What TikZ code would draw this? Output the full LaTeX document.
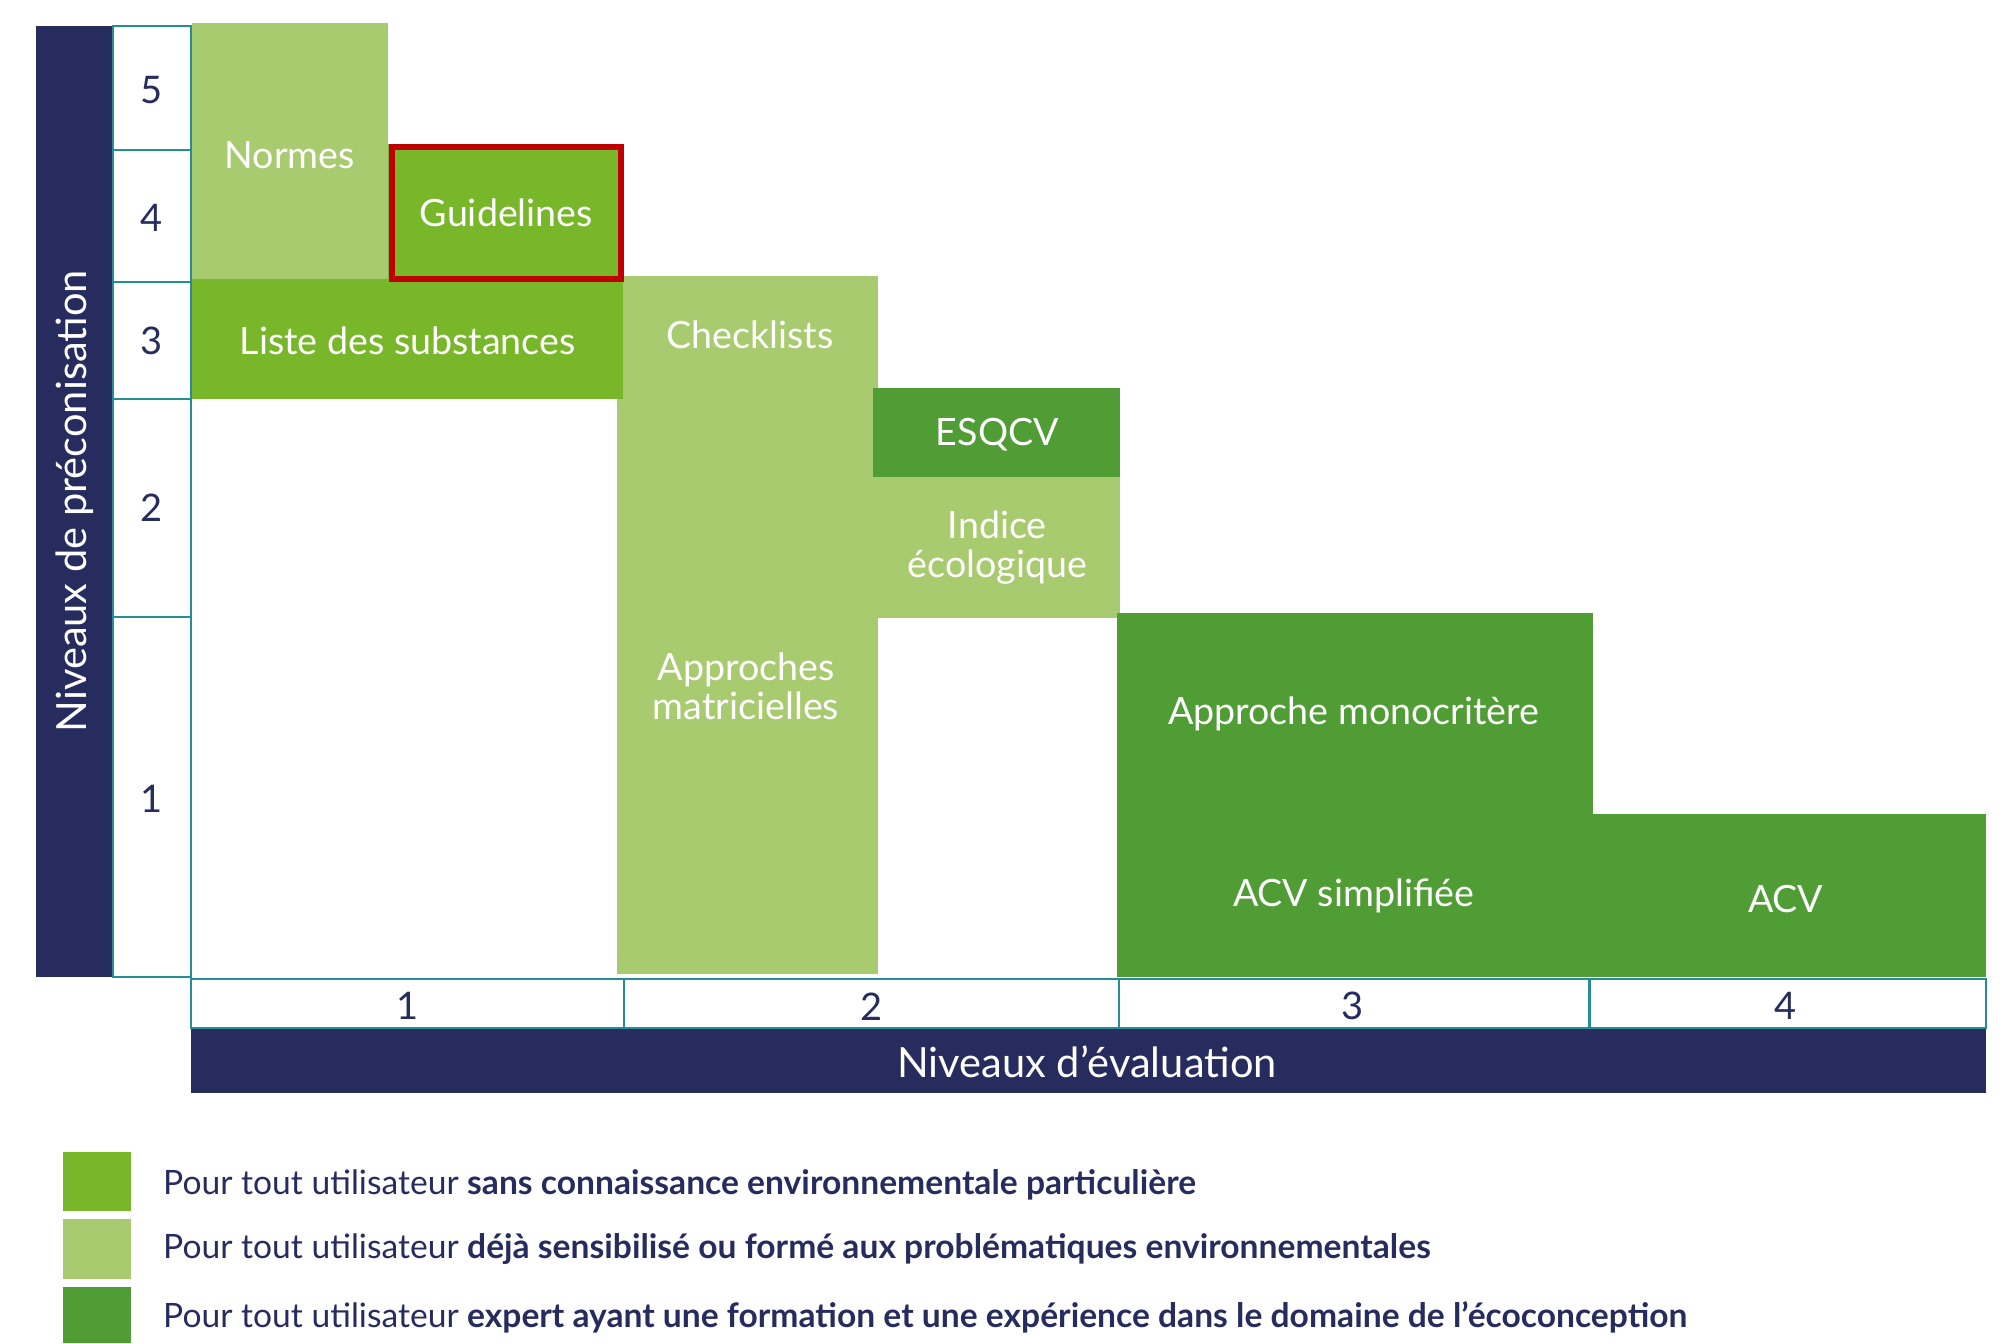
\documentclass[tikz,border=0pt]{standalone}
\usepackage{fontspec}
\setmainfont{Lato}
\definecolor{navy}{RGB}{39,44,94}
\definecolor{gbright}{RGB}{121,183,42}
\definecolor{glight}{RGB}{169,203,112}
\definecolor{gdark}{RGB}{80,157,53}
\definecolor{tealline}{RGB}{38,140,150}
\definecolor{redbox}{RGB}{192,0,0}
\begin{document}
\begin{tikzpicture}[x=0.641pt,y=-0.641pt,
  lbl/.style={text=white,font=\fontsize{18.8}{19.5}\selectfont,align=center,inner sep=0pt},
  num/.style={text=navy,font=\fontsize{19}{20}\selectfont,inner sep=0pt},
  axis/.style={text=white,font=\fontsize{20.8}{22}\selectfont,inner sep=0pt},
  legtext/.style={text=navy,font=\fontsize{16.8}{19}\selectfont,anchor=west,inner sep=0pt},
  grid/.style={draw=tealline,line width=1.1pt}]
\useasboundingbox (0,0) rectangle (1568,1048);
% vertical axis bar
\fill[navy] (28,20) rectangle (88,762);
\node[axis,rotate=90] (yaxis) at (58,391) {Niveaux de préconisation};
% number column
\draw[grid] (88,20) rectangle (149,762);
\foreach \yy in {117,220,311,481} \draw[grid] (88,\yy) -- (149,\yy);
\node[num] (r5) at (118,70) {5};
\node[num] (r4) at (118,170) {4};
\node[num] (r3) at (118,266) {3};
\node[num] (r2) at (118,396) {2};
\node[num] (r1) at (118,623) {1};
% boxes
\fill[glight] (150,18) rectangle (303,218);
\node[lbl] (normes) at (226,121) {Normes};
\fill[glight] (481,215) rectangle (685,760);
\node[lbl] (check) at (585,261) {Checklists};
\node[lbl] (matr) at (582,535) {Approches\\matricielles};
\fill[gbright] (150,218) rectangle (486,311);
\node[lbl] (liste) at (318,266) {Liste des substances};
\fill[gbright] (303,112) rectangle (487,220);
\draw[redbox,line width=3pt] (305.5,114.5) rectangle (484.5,217.5);
\node[lbl] (guide) at (395,166) {Guidelines};
\fill[gdark] (681,303) rectangle (874,372);
\node[lbl] (esqcv) at (778,339) {ESQCV};
\fill[glight] (681,372) rectangle (874,482);
\node[lbl] (indice) at (778,427) {Indice\\écologique};
\fill[gdark] (871,478) rectangle (1243,762);
\node[lbl] (mono) at (1056,557) {Approche monocritère};
\node[lbl] (acvs) at (1056,699) {ACV simplifiée};
\fill[gdark] (1243,635) rectangle (1549,762);
\node[lbl] (acv) at (1393,701) {ACV};
% horizontal axis
\draw[grid] (149,764) rectangle (1549,802);
\foreach \xx in {487,873,1240} \draw[grid] (\xx,764) -- (\xx,802);
\node[num] (c1) at (318,785) {1};
\node[num] (c2) at (680,785) {2};
\node[num] (c3) at (1055,785) {3};
\node[num] (c4) at (1393,785) {4};
\fill[navy] (149,803) rectangle (1549,853);
\node[axis] (xaxis) at (848,828) {Niveaux d’évaluation};
% legend
\fill[gbright] (49,899) rectangle (102,945);
\fill[glight] (49,951) rectangle (102,998);
\fill[gdark] (49,1004) rectangle (102,1048);
\node[legtext] (l1) at (127,924) {Pour tout utilisateur \textbf{sans connaissance environnementale particulière}};
\node[legtext] (l2) at (127,974) {Pour tout utilisateur \textbf{déjà sensibilisé ou formé aux problématiques environnementales}};
\node[legtext] (l3) at (127,1028) {Pour tout utilisateur \textbf{expert ayant une formation et une expérience dans le domaine de l’écoconception}};
\end{tikzpicture}
\end{document}
